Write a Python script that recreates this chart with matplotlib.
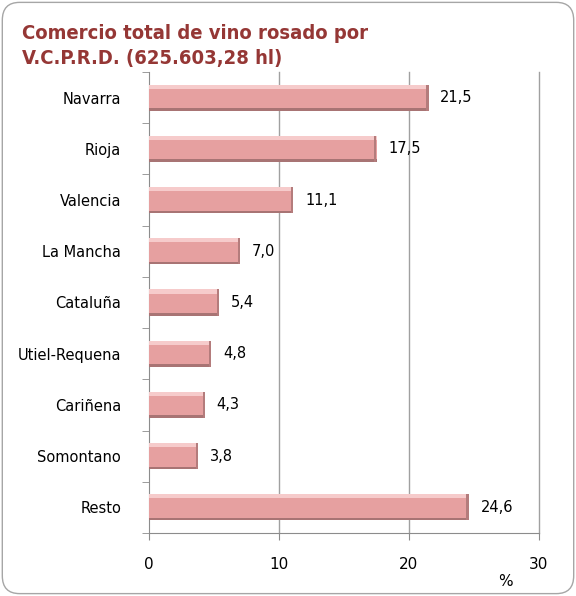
import matplotlib.pyplot as plt
from matplotlib.patches import FancyBboxPatch
import numpy as np

regions = ["Navarra", "Rioja", "Valencia", "La Mancha", "Cataluña",
           "Utiel-Requena", "Cariñena", "Somontano", "Resto"]
shares = [21.5, 17.5, 11.1, 7.0, 5.4, 4.8, 4.3, 3.8, 24.6]
share_labels = ["21,5", "17,5", "11,1", "7,0", "5,4", "4,8", "4,3", "3,8", "24,6"]
xticks = [0, 10, 20, 30]

fig = plt.figure(figsize=(5.76, 5.96), dpi=100)
# rounded frame around the chart
frame = FancyBboxPatch((0.004, 0.004), 0.992, 0.992, boxstyle="round,pad=0,rounding_size=0.03",
                       transform=fig.transFigure, fc="white", ec="#A6A6A6", lw=1.0, zorder=-10)
fig.patches.append(frame)

fig.text(0.038, 0.935, "Comercio total de vino rosado por", color="#953735",
         fontsize=14.5, fontweight="bold", fontstretch="condensed", va="baseline")
fig.text(0.038, 0.893, "V.C.P.R.D. (625.603,28 hl)", color="#953735",
         fontsize=14.5, fontweight="bold", fontstretch="condensed", va="baseline")

ax = fig.add_axes([149/576, 1-533/596, 390/576, 461/596])
y = np.arange(len(regions))
h = 0.51
ax.barh(y, shares, height=h, color="#E6A0A0", lw=0, zorder=3)
# bevel: light strip on top, darker strip at bottom, darker right end
ax.barh(y - h/2 + 0.04, shares, height=0.08, color="#F6CBCB", lw=0, zorder=4)
ax.barh(y + h/2 - 0.025, shares, height=0.05, color="#A87474", lw=0, zorder=4)
ax.barh(y, [0.18]*len(shares), left=np.array(shares) - 0.18, height=h,
        color="#B47C7C", lw=0, zorder=5)
for yi, v, lab in zip(y, shares, share_labels):
    ax.text(v + 0.9, yi, lab, va="center", ha="left", fontsize=10.5)

ax.set_ylim(len(regions) - 0.5, -0.5)
ax.set_xlim(0, 30)
ax.set_xticks(xticks)
ax.set_xticklabels([str(t) for t in xticks], fontsize=11)
ax.set_yticks(y)
ax.set_yticklabels(regions, fontsize=10.5)
ax.tick_params(axis="y", length=0, pad=20)
ax.set_yticks(np.arange(-0.5, len(regions)), minor=True)
ax.tick_params(axis="y", which="minor", length=5, color="#8C8C8C", direction="out")
ax.tick_params(axis="x", length=5, color="#8C8C8C", pad=12)
for t in xticks[1:]:
    ax.axvline(t, color="#A0A0A0", lw=1, zorder=0, clip_on=False)
for s in ["top", "right"]:
    ax.spines[s].set_visible(False)
for s in ["left", "bottom"]:
    ax.spines[s].set_color("#8C8C8C")
ax.set_facecolor("none")
fig.text(505/576, 1-582/596, "%", fontsize=11, ha="center", va="center")

fig.savefig("out.png", dpi=100)
